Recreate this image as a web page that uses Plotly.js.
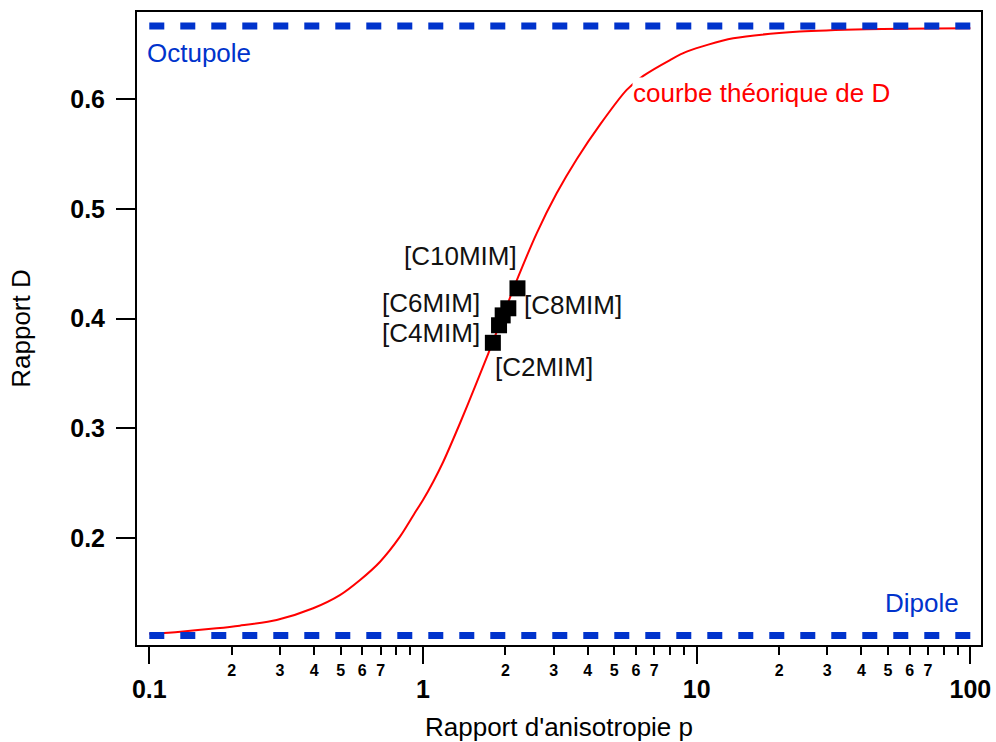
<!DOCTYPE html>
<html>
<head>
<meta charset="utf-8">
<script src="https://cdn.plot.ly/plotly-3.0.1.min.js"></script>
<style>html,body{margin:0;padding:0;background:#fff;}#chart{width:996px;height:742px;}</style>
</head>
<body>
<div id="chart"></div>
<script>
// Theoretical curve
const pCurve = [0.1, 0.13, 0.176, 0.214, 0.292, 0.397, 0.497, 0.589, 0.697, 0.824, 0.948, 1.0, 1.09, 1.186, 1.365, 1.549, 1.733, 2.229, 2.602, 3.078, 3.644, 4.434, 5.55, 6.38, 7.99, 9.19, 13.6, 23.8, 41.8, 100];
const dCurve = [0.1125, 0.1145, 0.1175, 0.1199, 0.1251, 0.1358, 0.1478, 0.1616, 0.1783, 0.2011, 0.2255, 0.2346, 0.2513, 0.2695, 0.3046, 0.3380, 0.3684, 0.4383, 0.4779, 0.5144, 0.5455, 0.5770, 0.6087, 0.6215, 0.6360, 0.6436, 0.6558, 0.6619, 0.6641, 0.6650];

// Measured samples
const sampleNames = ['[C2MIM]', '[C4MIM]', '[C6MIM]', '[C8MIM]', '[C10MIM]'];
const sampleP = [1.80, 1.896, 1.955, 2.05, 2.214];
const sampleD = [0.378, 0.394, 0.403, 0.4095, 0.4277];

// Limits
const limitP = [0.1, 100];
const octupoleD = 0.667;
const dipoleD = 0.111;

// Tick labels
const majorTickVals = [0.1, 1, 10, 100];
const majorTickText = ['0.1', '1', '10', '100'];
const minorDigits = ['2', '3', '4', '5', '6', '7', '', ''];
const yTickVals = [0.2, 0.3, 0.4, 0.5, 0.6];

const minorVals = [], minorText = [];
[0.1, 1, 10].forEach(function (dec) {
  for (let k = 2; k <= 9; k++) {
    minorVals.push(+(dec * k).toPrecision(3));
    minorText.push(minorDigits[k - 2]);
  }
});

const FONT = 'Liberation Sans, Arial, sans-serif';
const BLUE = '#0033CC';
const xr = [-1.0449, 2.0387];

const traces = [
  { x: limitP, y: [octupoleD, octupoleD], mode: 'lines', xaxis: 'x2', yaxis: 'y',
    line: { color: BLUE, width: 7, dash: '15px,16px' }, hoverinfo: 'skip' },
  { x: limitP, y: [dipoleD, dipoleD], mode: 'lines', xaxis: 'x2', yaxis: 'y',
    line: { color: BLUE, width: 7, dash: '15px,16px' }, hoverinfo: 'skip' },
  { x: pCurve, y: dCurve, mode: 'lines', line: { color: '#FF0000', width: 2, shape: 'spline', smoothing: 0.8 } },
  { x: sampleP, y: sampleD, mode: 'markers', text: sampleNames,
    marker: { symbol: 'square', size: 16, color: '#000000' } }
];

function ann(text, px, py, xanchor, color, bg) {
  return { text: text, xref: 'paper', yref: 'paper', x: (px - 137) / 844, y: (645 - py) / 633,
    xanchor: xanchor, yanchor: 'middle', showarrow: false,
    font: { family: FONT, size: 26, color: color }, bgcolor: bg || 'rgba(0,0,0,0)', borderpad: 0 };
}

const layout = {
  width: 996, height: 742,
  margin: { l: 137, r: 15, t: 12, b: 97 },
  paper_bgcolor: '#ffffff', plot_bgcolor: '#ffffff',
  showlegend: false,
  font: { family: FONT, color: '#000000' },
  xaxis: {
    type: 'log', range: xr, tickmode: 'array', tickvals: majorTickVals, ticktext: majorTickText,
    ticks: 'outside', ticklen: 17, tickwidth: 2, tickcolor: '#000',
    showline: true, linewidth: 2, linecolor: '#000', mirror: true,
    showgrid: false, zeroline: false,
    tickfont: { family: FONT, size: 25, color: '#000', weight: 'bold' },
    ticklabelstandoff: 4,
    title: { text: "Rapport d'anisotropie p", font: { family: FONT, size: 26, color: '#000' }, standoff: 16 }
  },
  xaxis2: {
    type: 'log', range: xr, overlaying: 'x', anchor: 'y', side: 'bottom',
    tickmode: 'array', tickvals: minorVals, ticktext: minorText,
    ticks: 'outside', ticklen: 9, tickwidth: 2, tickcolor: '#000',
    showline: false, showgrid: false, zeroline: false,
    tickfont: { family: FONT, size: 16, color: '#000', weight: 'bold' },
    ticklabelstandoff: 2
  },
  yaxis: {
    range: [0.1023, 0.6798], tickmode: 'array', tickvals: yTickVals,
    ticks: 'outside', ticklen: 19, tickwidth: 2, tickcolor: '#000',
    showline: true, linewidth: 2, linecolor: '#000', mirror: true,
    showgrid: false, zeroline: false,
    tickfont: { family: FONT, size: 25, color: '#000', weight: 'bold' },
    ticklabelstandoff: 6,
    title: { text: 'Rapport D', font: { family: FONT, size: 26, color: '#000' }, standoff: 32 }
  },
  annotations: [
    ann('Octupole', 146, 53, 'left', BLUE),
    ann('Dipole', 960, 603, 'right', BLUE),
    ann('courbe théorique de D', 632, 93, 'left', '#FF0000', '#ffffff'),
    ann('[C10MIM]', 460, 256, 'center', '#111'),
    ann('[C6MIM]', 431, 303, 'center', '#111'),
    ann('[C4MIM]', 431, 333, 'center', '#111'),
    ann('[C8MIM]', 573, 305, 'center', '#111'),
    ann('[C2MIM]', 544, 367, 'center', '#111')
  ]
};

Plotly.newPlot('chart', traces, layout, { staticPlot: true, displayModeBar: false });
</script>
</body>
</html>
